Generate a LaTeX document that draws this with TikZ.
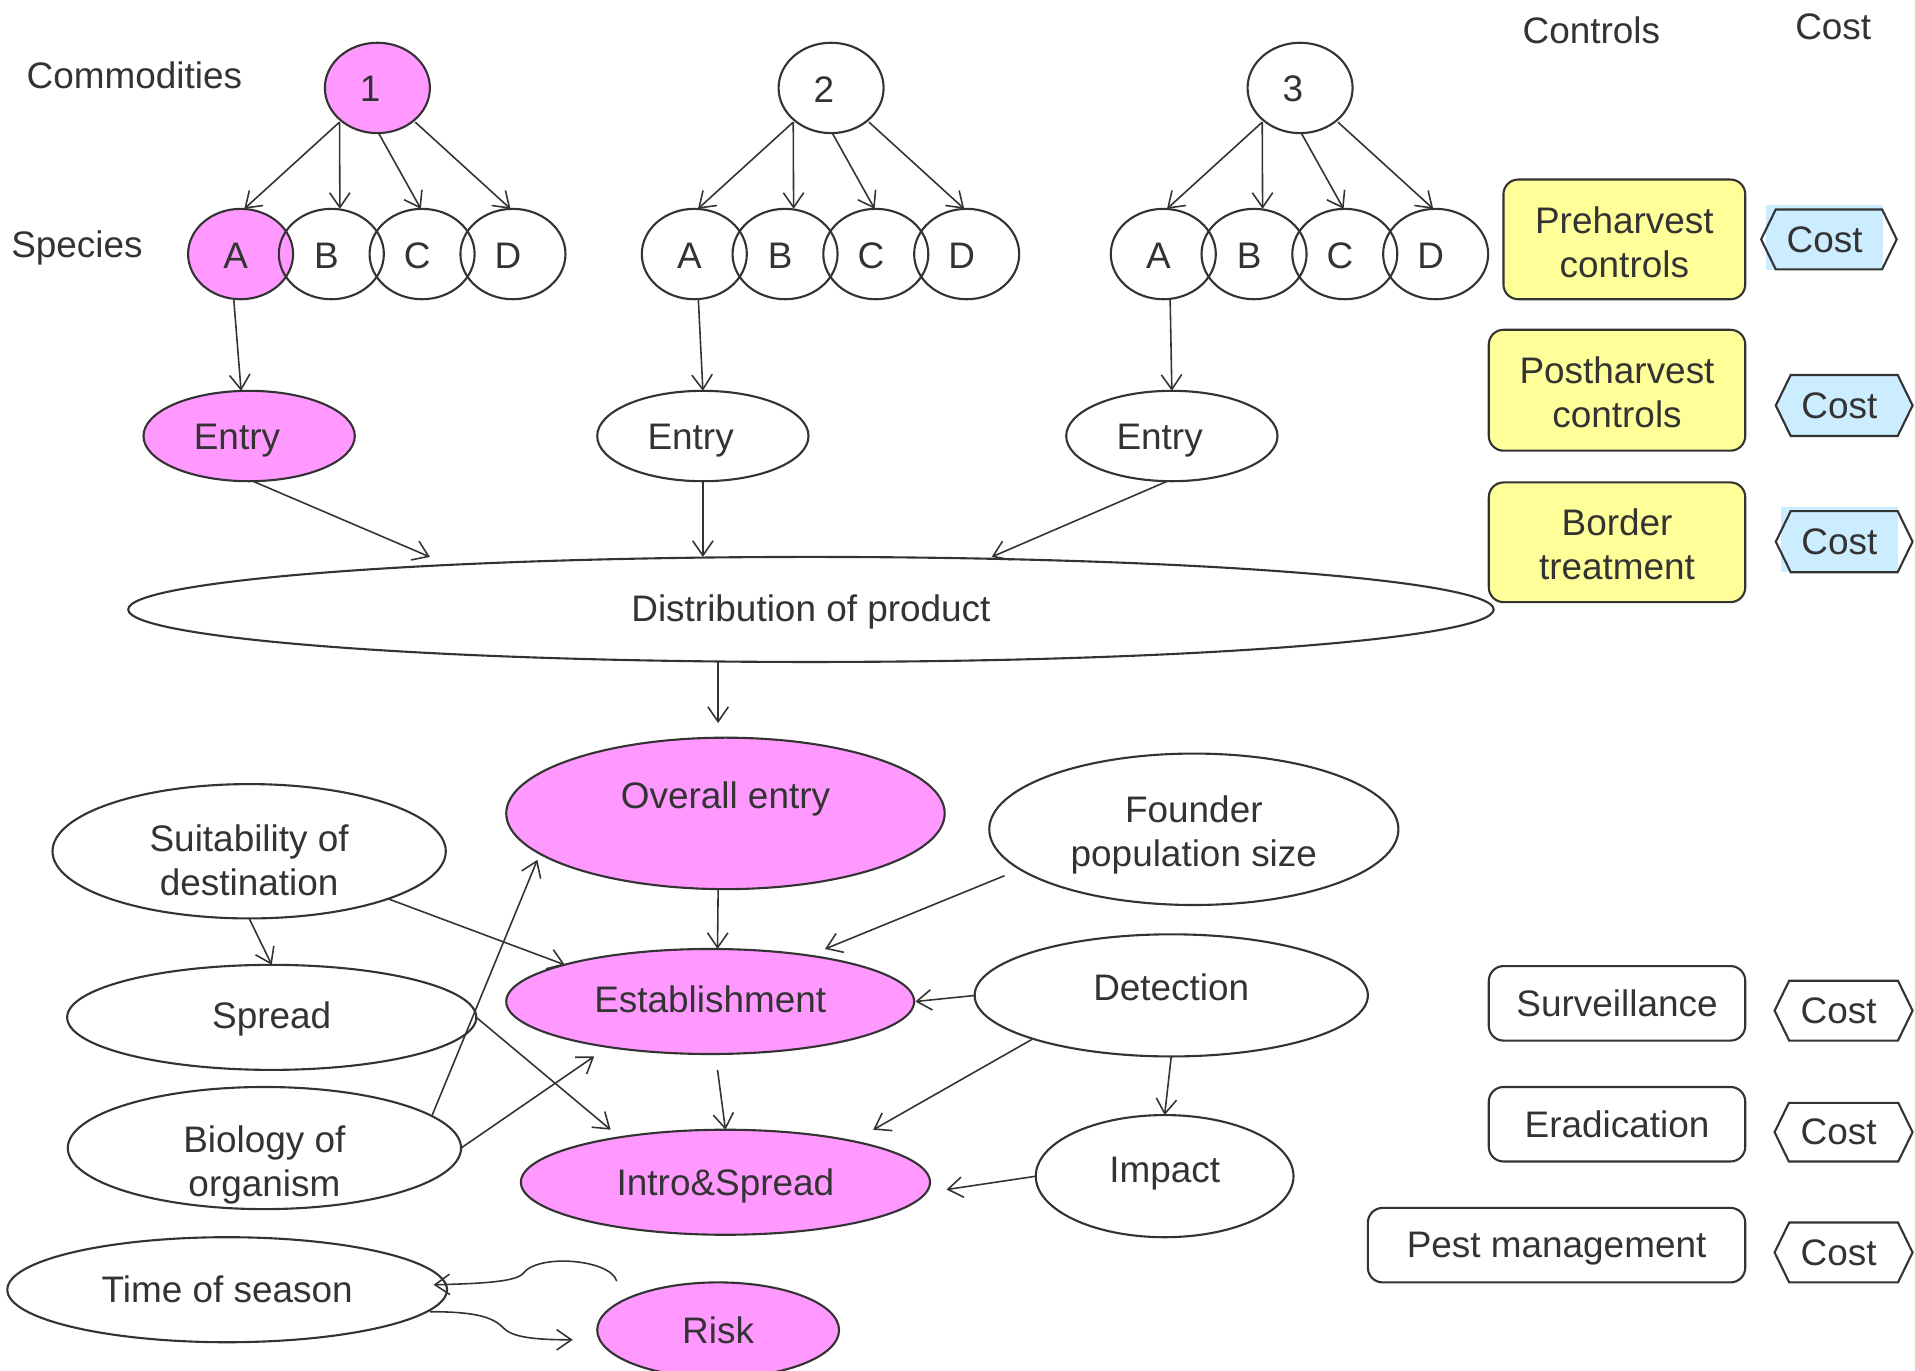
\documentclass[tikz,border=0pt]{standalone}
\usepackage{fontspec}
\setmainfont{Liberation Sans}
\usetikzlibrary{shapes.geometric,shapes.symbols,arrows.meta,backgrounds}
\definecolor{ln}{HTML}{333333}
\definecolor{pinkfill}{HTML}{FF99FF}
\definecolor{yelfill}{HTML}{FFFF99}
\definecolor{bluefill}{HTML}{CCECFF}
\def\u{0.012213cm}
\begin{document}
\begin{tikzpicture}[x=\u, y=-\u,
  every node/.style={font=\fontsize{10.5}{12.5}\selectfont, text=ln, align=center},
  ell/.style 2 args={ellipse, draw=ln, line width=0.6pt, inner sep=0pt,
    minimum width=#1*\u, minimum height=#2*\u},
  hl/.style={fill=pinkfill},
  ctrl/.style 2 args={rectangle, rounded corners=4.2pt, draw=ln, line width=0.6pt,
    inner sep=0pt, minimum width=#1*\u, minimum height=#2*\u},
  costbox/.style 2 args={signal, signal to=east and west, signal pointer angle=128,
    draw=ln, line width=0.6pt, inner sep=0pt, minimum width=#1*\u, minimum height=#2*\u},
  arr/.style={draw=ln, line width=0.45pt, -{Straight Barb[length=4.2pt,width=5.8pt]}}]

\useasboundingbox (0,0) rectangle (1568,1122);

% column headings
\node (hcom) at (110,62) {Commodities};
\node (hspe) at (63,203) {Species};
\node (hctl) at (1303,25) {Controls};
\node (hcst) at (1501,22) {Cost};

% commodities, their species and entry
\foreach \g/\cx/\f in {1/309/pinkfill, 2/680.5/none, 3/1064.5/none}{
  \node[ell={86}{74}, fill=\f, label={[shift={(-6,1)}]center:\g}] (com\g) at (\cx,72) {};
  \node[ell={86}{74}, fill=\f, label={[shift={(-4,1.5)}]center:A}] (spA\g) at (\cx-112,208) {};
  \node[ell={86}{74}, label={[shift={(-4,1.5)}]center:B}] (spB\g) at (\cx-37.7,208) {};
  \node[ell={86}{74}, label={[shift={(-4,1.5)}]center:C}] (spC\g) at (\cx+36.6,208) {};
  \node[ell={86}{74}, label={[shift={(-4,1.5)}]center:D}] (spD\g) at (\cx+111,208) {};
  \node[ell={173}{74}, fill=\f, label={[shift={(-10,4)}]center:Entry}] (ent\g) at (\cx-105,357) {};
  \draw[arr] ([shift={(-31,28)}]com\g.center) -- ([shift={(3,-37)}]spA\g.center);
  \draw[arr] ([shift={(-31,28)}]com\g.center) -- ([shift={(7,-37)}]spB\g.center);
  \draw[arr] ([shift={(1,37)}]com\g.center) -- ([shift={(-1,-37)}]spC\g.center);
  \draw[arr] ([shift={(31,28)}]com\g.center) -- ([shift={(-2,-37)}]spD\g.center);
}
\draw[arr] ([shift={(-5.6,37)}]spA1.center) -- ([shift={(-6.6,-37)}]ent1.center);
\draw[arr] ([shift={(3.3,37)}]spA2.center) -- ([shift={(0,-37)}]ent2.center);
\draw[arr] ([shift={(5.6,37)}]spA3.center) -- ([shift={(0,-37)}]ent3.center);

% distribution
\node[ell={1118}{86}, label={[shift={(0,2)}]center:Distribution of product}] (dist) at (664,499) {};
\draw[arr] ([shift={(3,37)}]ent1.center) -- ([shift={(-312,-43)}]dist.center);
\draw[arr] ([shift={(0,37)}]ent2.center) -- ([shift={(-88.5,-43)}]dist.center);
\draw[arr] ([shift={(-3.7,37)}]ent3.center) -- ([shift={(148,-43)}]dist.center);

% establishment network
\node[ell={359}{124}, hl, label={[shift={(0,-12)}]center:Overall entry}] (oe) at (594,666) {};
\node[ell={335}{124}, label={[shift={(0,5)}]center:{Founder\\population size}}] (fps) at (977.5,679) {};
\node[ell={322}{110}, label={[shift={(0,7.5)}]center:{Suitability of\\destination}}] (suit) at (204,697) {};
\node[ell={335}{86}, label={[shift={(0,1)}]center:Spread}] (spr) at (222.5,833) {};
\node[ell={322}{100}, label={[shift={(0,14)}]center:{Biology of\\organism}}] (bio) at (216.5,940) {};
\node[ell={334}{86}, hl, label={[shift={(0,-2)}]center:Establishment}] (est) at (581.5,820) {};
\node[ell={322}{100}, label={[shift={(0,-7)}]center:Detection}] (det) at (959,815) {};
\node[ell={335}{86}, hl, label={[shift={(0,3)}]center:Intro\&Spread}] (intro) at (594,968) {};
\node[ell={211}{100}, label={[shift={(0,-2)}]center:Impact}] (imp) at (953.6,963) {};
\node[ell={360}{86}] (tos) at (186,1056) {Time of season};
\node[ell={198}{78}, hl] (risk) at (588,1089) {Risk};

\draw[arr] ([shift={(-76,43)}]dist.center) -- ([shift={(-6,-74)}]oe.center);
\draw[arr] ([shift={(-6,62)}]oe.center) -- ([shift={(6,-43)}]est.center);
\draw[arr] ([shift={(-155,38)}]fps.center) -- ([shift={(94,-43)}]est.center);
\draw[arr] ([shift={(114,39)}]suit.center) -- ([shift={(-119,-30)}]est.center);
\draw[arr] ([shift={(0,55)}]suit.center) -- ([shift={(0,-43)}]spr.center);
\draw[arr] ([shift={(137,-26)}]bio.center) -- ([shift={(-154,38)}]oe.center);
\draw[arr] ([shift={(161,0)}]bio.center) -- ([shift={(-95,45)}]est.center);
\draw[arr] ([shift={(167.5,0)}]spr.center) -- ([shift={(-94,-43)}]intro.center);
\draw[arr] ([shift={(6,56)}]est.center) -- ([shift={(0,-43)}]intro.center);
\draw[arr] ([shift={(-160,0)}]det.center) -- ([shift={(168,0)}]est.center);
\draw[arr] ([shift={(-114,36)}]det.center) -- ([shift={(121,-43)}]intro.center);
\draw[arr] ([shift={(0,50)}]det.center) -- ([shift={(0,-50)}]imp.center);
\draw[arr] ([shift={(-105,0)}]imp.center) -- ([shift={(181,6)}]intro.center);

% season and risk
\draw[arr] ([shift={(-83,-40)}]risk.center)
  .. controls (500,1031) and (440,1026) .. (428,1043)
  .. controls (421,1050) and (390,1051) .. ([shift={(169,-4)}]tos.center);
\draw[arr] ([shift={(166,18)}]tos.center)
  .. controls (395,1074) and (405,1080) .. (413,1088)
  .. controls (421,1096) and (445,1097) .. ([shift={(-119,8)}]risk.center);

% controls
\node[ctrl={198}{98}, fill=yelfill, label={[shift={(0,2)}]center:{Preharvest\\controls}}] (pre) at (1330,196) {};
\node[ctrl={210}{99}, fill=yelfill, label={[shift={(0,2)}]center:{Postharvest\\controls}}] (post) at (1324,319.5) {};
\node[ctrl={210}{98}, fill=yelfill, label={[shift={(0,2)}]center:{Border\\treatment}}] (bord) at (1324,444) {};
\node[ctrl={210}{61}] (surv) at (1324,821.5) {Surveillance};
\node[ctrl={210}{61}] (erad) at (1324,920.5) {Eradication};
\node[ctrl={309}{61}, label={[shift={(0,3)}]center:Pest management}] (pest) at (1274.5,1019.5) {};

% costs
\node[costbox={111}{49}, label={[shift={(-3.5,0)}]center:Cost}] (k1) at (1497.5,196) {};
\node[costbox={112}{50}, fill=bluefill, label={[shift={(-4,0)}]center:Cost}] (k2) at (1510,332) {};
\node[costbox={112}{50}, label={[shift={(-4,0)}]center:Cost}] (k3) at (1510,443.5) {};
\node[costbox={113}{49}, label={[shift={(-4,0)}]center:Cost}] (k4) at (1509.5,827.5) {};
\node[costbox={113}{48}, label={[shift={(-4,0)}]center:Cost}] (k5) at (1509.5,927) {};
\node[costbox={113}{49}, label={[shift={(-4,0)}]center:Cost}] (k6) at (1509.5,1025.5) {};
\begin{scope}[on background layer]
  \fill[bluefill] ([shift={(-51.5,-28)}]k1.center) rectangle ([shift={(44,25)}]k1.center);
  \fill[bluefill] ([shift={(-51.7,-28.5)}]k3.center) rectangle ([shift={(44,24.5)}]k3.center);
\end{scope}
\end{tikzpicture}
\end{document}
